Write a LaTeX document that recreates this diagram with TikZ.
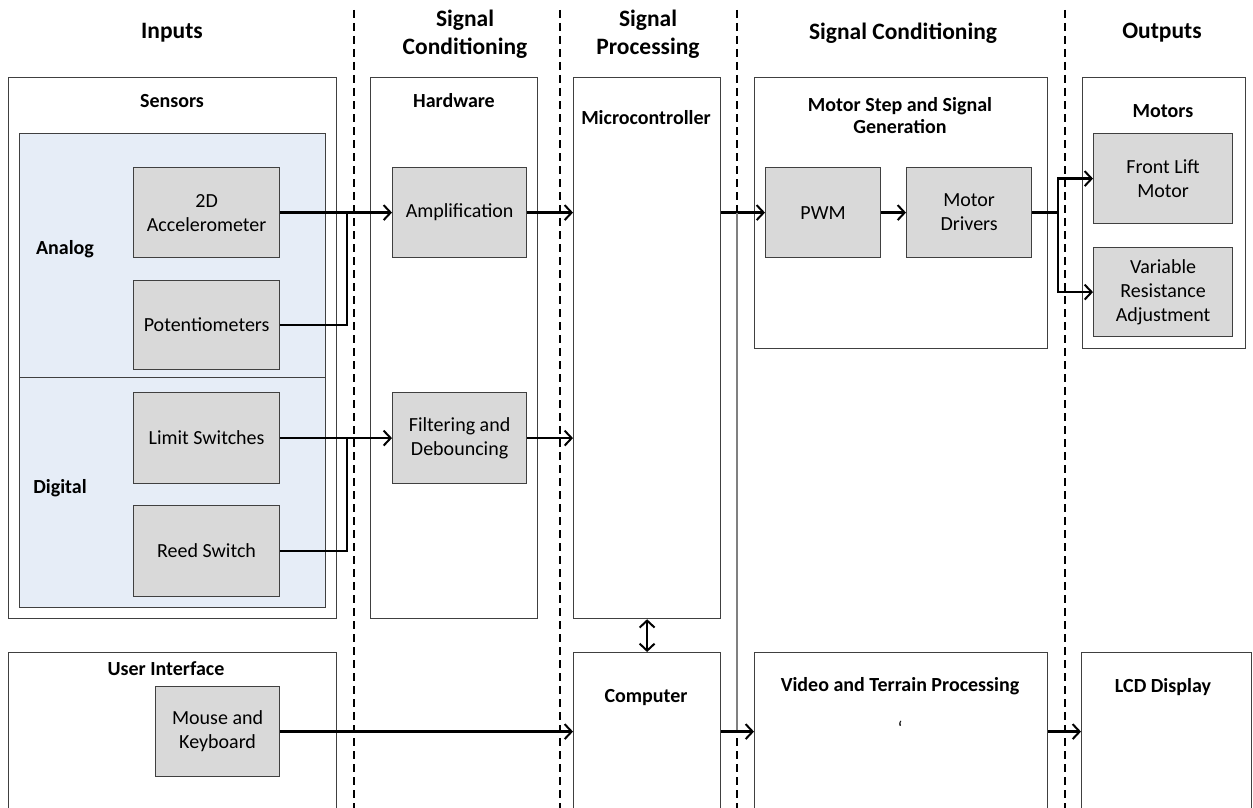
\documentclass[tikz,border=0pt]{standalone}
\usepackage{fontspec}
\setmainfont{Carlito}
\usetikzlibrary{arrows.meta}
\definecolor{edge}{HTML}{404040}
\definecolor{boxfill}{HTML}{D9D9D9}
\definecolor{groupfill}{HTML}{E6EDF7}
\definecolor{thinline}{HTML}{808080}
\tikzset{
  frame/.style={draw=edge, fill=white, line width=1.2pt, inner sep=0pt, anchor=north west},
  group/.style={draw=edge, fill=groupfill, line width=1.2pt, inner sep=0pt, anchor=north west},
  block/.style={draw=edge, fill=boxfill, line width=1.2pt, inner sep=0pt, anchor=north west,
    align=center, font=\fontsize{20}{24}\selectfont},
  header/.style={font=\bfseries\fontsize{23.5}{28}\selectfont, align=center},
  title/.style={font=\bfseries\fontsize{20}{22}\selectfont, align=center},
  divider/.style={dashed, dash pattern=on 8pt off 5pt, line width=1.6pt, black},
  link/.style={line width=2.4pt, black},
  flow/.style={link, -{Straight Barb[length=7pt,width=15pt,line width=2pt]}},
  biflow/.style={link, {Straight Barb[length=7pt,width=15pt,line width=2pt]}-{Straight Barb[length=7pt,width=15pt,line width=2pt]}},
}
\begin{document}
\begin{tikzpicture}[x=1pt,y=-1pt]
\useasboundingbox (0,0) rectangle (1253,808);

% column dividers
\foreach \xx/\nm in {354/d1,560/d2,737/d3,1065/d4}{
  \coordinate (\nm top) at (\xx,10);
  \coordinate (\nm bot) at (\xx,808);
  \draw[divider] (\nm top) -- (\nm bot);
}

% column headers
\node[header] (hin)  at (172,33) {Inputs};
\node[header] (hsc1) at (465,34) {Signal\\Conditioning};
\node[header] (hsp)  at (648,34) {Signal\\Processing};
\node[header] (hsc2) at (903,33) {Signal Conditioning};
\node[header] (hout) at (1162,33) {Outputs};

% upper frames
\node[frame, minimum width=328pt, minimum height=541pt] (sens) at (8,77) {};
\node[group, minimum width=306pt, minimum height=244pt] (analog) at (19,133) {};
\node[group, minimum width=306pt, minimum height=230pt] (digital) at (19,377) {};
\node[frame, minimum width=167pt, minimum height=541pt] (hw) at (370,77) {};
\node[frame, minimum width=147pt, minimum height=541pt] (micro) at (573,77) {};
\node[frame, minimum width=293pt, minimum height=271pt] (step) at (754,77) {};
\node[frame, minimum width=163pt, minimum height=271pt] (motors) at (1082,77) {};

% lower frames (running off the bottom edge)
\node[frame, minimum width=328pt, minimum height=170pt] (ui) at (8,652) {};
\node[frame, minimum width=147pt, minimum height=170pt] (comp) at (573,652) {};
\node[frame, minimum width=293pt, minimum height=170pt] (video) at (754,652) {};
\node[frame, minimum width=170pt, minimum height=170pt] (lcd) at (1081,652) {};

% frame titles
\node[title] (tsens) at (172,101) {Sensors};
\node[title] (thw) at (454,101) {Hardware};
\node[title] (tmicro) at (646,118) {Microcontroller};
\node[title] (tstep) at (900,116) {Motor Step and Signal\\Generation};
\node[title] (tmotors) at (1163,111) {Motors};
\node[title] (tui) at (166,669) {User Interface};
\node[title] (tcomp) at (646,698) {Computer};
\node[title] (tvideo) at (900,686) {Video and Terrain Processing};
\node[title] (tlcd) at (1163,687) {LCD Display};
\node[font=\fontsize{20}{20}\selectfont] (tick) at (900,728) {\symbol{96}};
\node[title] (tanalog) at (65,249) {Analog};
\node[title] (tdigital) at (60,488) {Digital};

% blocks
\node[block, minimum width=146pt, minimum height=90pt] (acc) at (133,167) {2D\\Accelerometer};
\node[block, minimum width=146pt, minimum height=89pt] (pot) at (133,280) {Potentiometers};
\node[block, minimum width=146pt, minimum height=91pt] (lim) at (133,392) {Limit Switches};
\node[block, minimum width=146pt, minimum height=91pt] (reed) at (133,505) {Reed Switch};
\node[block, minimum width=134pt, minimum height=90pt] (amp) at (392,167) {Amplification};
\node[block, minimum width=134pt, minimum height=91pt] (fil) at (392,392) {Filtering and\\Debouncing};
\node[block, minimum width=115pt, minimum height=90pt] (pwm) at (765,167) {PWM};
\node[block, minimum width=125pt, minimum height=90pt] (drv) at (906,167) {Motor\\Drivers};
\node[block, minimum width=139pt, minimum height=90pt] (lift) at (1093,133) {Front Lift\\Motor};
\node[block, minimum width=139pt, minimum height=89pt] (vra) at (1093,247) {Variable\\Resistance\\Adjustment};
\node[block, minimum width=124pt, minimum height=90pt] (mk) at (155,686) {Mouse and\\Keyboard};

% junction points
\coordinate (jin) at (347,0);
\coordinate (jout) at (1058,0);
\coordinate (tap) at (737,0);

% sensor inputs to conditioning
\draw[flow] (acc.east) -- (amp.west);
\draw[link] (pot.east) -| (jin |- acc.east);
\draw[flow] (lim.east) -- (fil.west);
\draw[link] (reed.east) -| (jin |- lim.east);

% conditioning to microcontroller
\draw[flow] (amp.east) -- (amp.east -| micro.west);
\draw[flow] (fil.east) -- (fil.east -| micro.west);

% microcontroller to motor signal generation
\draw[flow] (micro.east |- pwm.west) -- (pwm.west);
\draw[flow] (pwm.east) -- (drv.west);
\draw[link] (drv.east) -- (jout |- drv.east);
\draw[flow] (jout |- drv.east) |- (lift.west);
\draw[flow] (jout |- drv.east) |- (vra.west);

% microcontroller <-> computer
\draw[biflow] (micro.south) -- (comp.north);

% user interface and video path
\draw[flow] (mk.east) -- (mk.east -| comp.west);
\draw[thinline, line width=1.2pt] (tap |- pwm.west) -- (tap |- mk.east);
\draw[flow] (mk.east -| comp.east) -- (mk.east -| video.west);
\draw[flow] (mk.east -| video.east) -- (mk.east -| lcd.west);
\end{tikzpicture}
\end{document}
